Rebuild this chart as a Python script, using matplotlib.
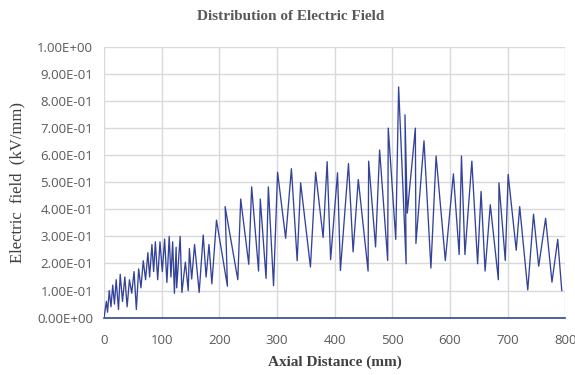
import matplotlib.pyplot as plt
from matplotlib.ticker import MultipleLocator, FuncFormatter

# Axial position (mm) and field strength (kV/mm) along the probe path
axial_mm = [
    0, 4, 6, 9, 12, 15, 18, 21, 25, 28, 32, 36, 40, 44, 48, 52, 56, 60, 64, 68,
    72, 76, 79, 83, 86, 89, 93, 97, 101, 105, 109, 113, 116, 119, 122, 125, 126,
    132, 135, 141, 146, 148, 152, 157, 165, 172, 177, 182, 187, 195, 214, 210,
    232, 237, 251, 256, 268, 271, 281, 285, 294, 301, 315, 325, 335, 341, 358,
    367, 380, 387, 393, 405, 410, 424, 432, 441, 458, 459, 471, 478, 492, 493,
    506, 511, 524, 522, 526, 540, 541, 555, 567, 576, 592, 606, 616, 620, 626,
    638, 648, 654, 661, 670, 684, 685, 696, 701, 715, 721, 735, 745, 754, 766,
    777, 787, 794,
]
field_kv_mm = [
    0.0, 0.06, 0.02, 0.10, 0.04, 0.12, 0.05, 0.14, 0.03, 0.16, 0.06, 0.15, 0.04,
    0.14, 0.09, 0.17, 0.03, 0.18, 0.11, 0.21, 0.14, 0.24, 0.15, 0.27, 0.17, 0.28,
    0.14, 0.28, 0.17, 0.29, 0.13, 0.30, 0.15, 0.28, 0.09, 0.26, 0.11, 0.30, 0.093,
    0.205, 0.10, 0.255, 0.143, 0.27, 0.093, 0.305, 0.15, 0.27, 0.125, 0.36, 0.116,
    0.41, 0.14, 0.438, 0.197, 0.483, 0.172, 0.438, 0.145, 0.483, 0.118, 0.537,
    0.293, 0.55, 0.21, 0.498, 0.187, 0.537, 0.296, 0.576, 0.214, 0.535, 0.174,
    0.569, 0.243, 0.51, 0.172, 0.578, 0.261, 0.619, 0.211, 0.70, 0.289, 0.852,
    0.199, 0.749, 0.386, 0.70, 0.274, 0.653, 0.183, 0.597, 0.211, 0.531, 0.233,
    0.597, 0.233, 0.578, 0.199, 0.466, 0.172, 0.417, 0.14, 0.498, 0.211, 0.529,
    0.249, 0.41, 0.102, 0.382, 0.19, 0.367, 0.131, 0.289, 0.10,
]

line_color = '#34439a'
text_gray = '#595959'
grid_gray = '#d9d9d9'

fig = plt.figure(figsize=(5.75, 3.75), dpi=100)
ax = fig.add_axes([0.181, 0.153, 0.802, 0.722])

ax.plot(axial_mm, field_kv_mm, color=line_color, linewidth=0.95, zorder=3)

ax.set_xlim(0, 800)
ax.set_ylim(0, 1.0)
ax.xaxis.set_major_locator(MultipleLocator(100))
ax.yaxis.set_major_locator(MultipleLocator(0.1))
ax.yaxis.set_major_formatter(FuncFormatter(lambda v, _: f"{v:.2E}"))

ax.grid(True, color=grid_gray, linewidth=1.0, zorder=0)
ax.tick_params(length=0, labelsize=9.5, labelcolor=text_gray)
ax.tick_params(axis='y', pad=8)
ax.tick_params(axis='x', pad=12)
for lbl in ax.get_xticklabels() + ax.get_yticklabels():
    lbl.set_family('Open Sans')

# Only the baseline is kept, drawn in the series colour
for side in ['top', 'right', 'left']:
    ax.spines[side].set_visible(False)
ax.spines['bottom'].set_color(line_color)
ax.spines['bottom'].set_linewidth(1.2)
ax.spines['bottom'].set_zorder(4)

fig.text(0.505, 0.955, 'Distribution of Electric Field', ha='center', va='center',
         family='Liberation Serif', fontweight='bold', fontsize=11, color=text_gray)
ax.set_xlabel('Axial Distance (mm)', family='Liberation Serif', fontweight='bold',
              fontsize=11, color='#404040', labelpad=6)
ax.set_ylabel('Electric  field  (kV/mm)', family='Liberation Serif',
              fontsize=12, color='#404040', labelpad=8)

plt.savefig('out.png', dpi=100)
